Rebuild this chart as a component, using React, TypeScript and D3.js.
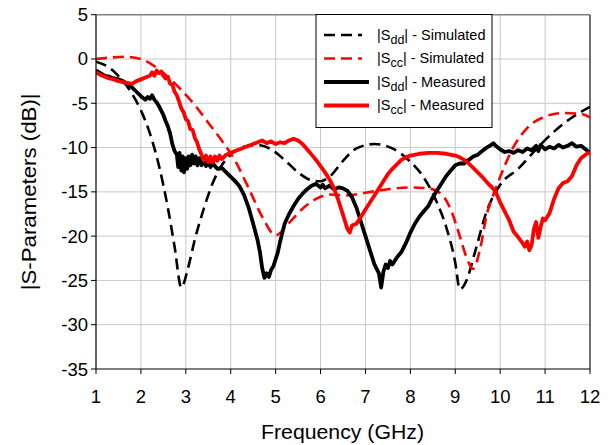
import React from "react";
import * as d3 from "d3";

const xTicks = [1, 2, 3, 4, 5, 6, 7, 8, 9, 10, 11, 12];
const yTicks = [5, 0, -5, -10, -15, -20, -25, -30, -35];

const sddSimF = [1, 1.3, 1.6, 1.8, 2.0, 2.2, 2.4, 2.6, 2.75, 2.9, 3.05, 3.2, 3.4, 3.6, 3.8, 4.0, 4.3, 4.6, 4.9, 5.2, 5.5, 5.8, 6.0, 6.2, 6.5, 6.8, 7.2, 7.6, 8.0, 8.3, 8.6, 8.8, 9.0, 9.1, 9.25, 9.45, 9.7, 10.0, 10.4, 10.8, 11.2, 11.6, 12];
const sddSimV = [-0.3, -1.0, -2.5, -3.9, -5.8, -8.4, -12.0, -16.8, -21.2, -25.8, -23.6, -20.4, -16.9, -14.0, -12.0, -10.8, -9.9, -9.7, -10.2, -11.4, -12.8, -13.7, -13.8, -13.3, -11.5, -10.1, -9.6, -10.1, -11.6, -13.4, -16.3, -19.0, -23.0, -26.0, -25.0, -21.6, -17.2, -14.2, -12.4, -10.2, -8.2, -6.6, -5.4];

const sccSimF = [1, 1.3, 1.65, 2.0, 2.3, 2.6, 2.9, 3.2, 3.5, 3.8, 4.1, 4.4, 4.7, 5.0, 5.3, 5.6, 5.9, 6.2, 6.6, 7.0, 7.5, 8.0, 8.4, 8.7, 8.9, 9.1, 9.25, 9.4, 9.55, 9.7, 9.85, 10.0, 10.3, 10.6, 11.0, 11.4, 11.8, 12];
const sccSimV = [0, 0.15, 0.25, 0.0, -0.8, -2.0, -3.5, -5.2, -7.2, -9.2, -11.5, -14.6, -17.8, -19.9, -18.5, -16.9, -15.8, -15.3, -15.4, -15.1, -14.7, -14.5, -14.6, -15.3, -17.0, -20.0, -22.4, -23.7, -21.5, -17.6, -15.3, -13.3, -9.9, -7.8, -6.5, -6.1, -6.2, -6.6];

const sddMeasF = [1.0, 1.1, 1.2, 1.3, 1.4, 1.5, 1.6, 1.7, 1.8, 1.9, 2.0, 2.05, 2.1, 2.15, 2.2, 2.25, 2.3, 2.35, 2.4, 2.45, 2.5, 2.55, 2.6, 2.65, 2.7, 2.75, 2.8, 2.83, 2.86, 2.9, 2.93, 2.96, 3.0, 3.03, 3.06, 3.1, 3.14, 3.18, 3.22, 3.26, 3.3, 3.35, 3.4, 3.45, 3.5, 3.55, 3.6, 3.7, 3.8, 3.9, 4.0, 4.1, 4.2, 4.3, 4.4, 4.5, 4.6, 4.65, 4.7, 4.75, 4.8, 4.85, 4.9, 4.95, 5.0, 5.05, 5.1, 5.15, 5.2, 5.3, 5.4, 5.5, 5.6, 5.7, 5.8, 5.9, 6.0, 6.05, 6.1, 6.2, 6.3, 6.4, 6.5, 6.6, 6.7, 6.8, 6.9, 7.0, 7.1, 7.2, 7.3, 7.35, 7.4, 7.45, 7.5, 7.55, 7.6, 7.7, 7.8, 7.9, 8.0, 8.1, 8.2, 8.3, 8.4, 8.5, 8.6, 8.7, 8.8, 8.9, 9.0, 9.1, 9.2, 9.25, 9.3, 9.4, 9.5, 9.6, 9.7, 9.8, 9.85, 9.9, 10.0, 10.1, 10.2, 10.3, 10.4, 10.5, 10.6, 10.7, 10.8, 10.85, 10.9, 11.0, 11.1, 11.2, 11.3, 11.4, 11.5, 11.6, 11.7, 11.8, 11.9, 12.0];
const sddMeasV = [-1.3, -1.6, -1.9, -2.0, -2.2, -2.3, -2.5, -2.8, -3.2, -3.7, -4.2, -4.4, -4.6, -4.3, -4.5, -4.1, -4.6, -4.9, -5.3, -5.8, -6.3, -7.0, -7.6, -8.4, -9.6, -10.4, -10.8, -12.2, -10.6, -12.6, -11.0, -12.8, -11.2, -12.4, -11.0, -12.0, -10.8, -11.8, -11.0, -12.0, -11.2, -12.0, -11.4, -12.1, -11.6, -12.2, -11.8, -12.4, -12.3, -12.8, -13.3, -13.8, -14.4, -15.4, -16.8, -18.6, -20.5, -21.8, -23.6, -24.7, -24.2, -24.6, -23.8, -23.4, -22.6, -21.8, -20.6, -19.6, -18.6, -17.5, -16.6, -15.8, -15.2, -14.7, -14.3, -14.1, -14.5, -14.2, -14.6, -14.3, -14.7, -14.5, -14.6, -14.9, -15.6, -16.8, -18.4, -20.0, -21.6, -23.2, -24.2, -25.8, -24.0, -23.2, -23.6, -22.8, -23.2, -22.4, -21.8, -20.8, -19.6, -18.6, -17.8, -17.2, -16.6, -15.6, -14.8, -14.0, -13.2, -12.6, -12.0, -11.8, -11.8, -11.5, -11.4, -11.0, -10.8, -10.4, -10.0, -9.7, -9.5, -9.8, -10.2, -10.5, -10.4, -10.6, -10.3, -10.5, -10.1, -10.3, -9.8, -10.4, -9.7, -10.2, -9.9, -10.1, -9.7, -10.0, -9.8, -9.5, -9.9, -9.8, -10.2, -10.6];

const sccMeasF = [1.0, 1.1, 1.2, 1.3, 1.4, 1.5, 1.6, 1.7, 1.8, 1.9, 2.0, 2.1, 2.2, 2.25, 2.3, 2.35, 2.4, 2.45, 2.5, 2.55, 2.6, 2.65, 2.7, 2.75, 2.8, 2.85, 2.9, 2.95, 3.0, 3.05, 3.1, 3.15, 3.2, 3.25, 3.3, 3.35, 3.4, 3.45, 3.5, 3.55, 3.6, 3.65, 3.7, 3.75, 3.8, 3.9, 4.0, 4.1, 4.2, 4.3, 4.4, 4.5, 4.6, 4.7, 4.8, 4.9, 5.0, 5.1, 5.2, 5.3, 5.4, 5.5, 5.6, 5.7, 5.8, 5.9, 6.0, 6.1, 6.2, 6.3, 6.4, 6.5, 6.6, 6.65, 6.7, 6.8, 6.9, 7.0, 7.1, 7.2, 7.3, 7.4, 7.5, 7.6, 7.7, 7.8, 7.9, 8.0, 8.2, 8.4, 8.6, 8.8, 9.0, 9.1, 9.2, 9.3, 9.4, 9.5, 9.6, 9.7, 9.8, 9.9, 10.0, 10.1, 10.2, 10.3, 10.4, 10.5, 10.55, 10.6, 10.65, 10.7, 10.75, 10.8, 10.85, 10.9, 10.95, 11.0, 11.1, 11.2, 11.3, 11.4, 11.5, 11.6, 11.7, 11.8, 11.9, 12.0];
const sccMeasV = [-1.5, -1.8, -2.0, -2.2, -2.3, -2.5, -2.6, -2.7, -2.8, -2.5, -2.3, -2.1, -1.9, -1.5, -1.9, -1.3, -1.6, -1.4, -1.9, -2.2, -2.0, -2.8, -2.9, -3.7, -4.1, -4.8, -5.6, -6.0, -6.8, -7.0, -7.9, -8.0, -8.9, -9.4, -10.2, -10.8, -11.4, -10.9, -11.6, -11.0, -11.7, -11.0, -11.5, -10.9, -11.3, -10.8, -10.6, -10.4, -10.2, -10.0, -9.8, -9.6, -9.4, -9.2, -9.5, -9.3, -9.6, -9.4, -9.5, -9.2, -9.0, -9.2, -9.6, -10.2, -10.8, -11.4, -12.1, -12.8, -13.6, -14.6, -16.0, -17.6, -19.2, -19.6, -18.8, -18.6, -17.8, -17.0, -16.2, -15.4, -14.6, -13.8, -13.0, -12.4, -11.9, -11.4, -11.1, -10.9, -10.7, -10.6, -10.6, -10.7, -10.9, -11.1, -11.4, -11.8, -12.3, -12.8, -13.3, -13.9, -14.4, -15.0, -16.2, -17.2, -18.2, -19.5, -20.1, -20.8, -21.2, -20.6, -21.6, -21.0, -19.2, -18.4, -20.2, -19.0, -18.0, -18.2, -17.4, -15.8, -14.6, -14.0, -13.8, -13.2, -12.0, -11.2, -10.8, -10.5];

const W = 608;
const H = 445;
const left = 96;
const right = 590;
const top = 14.7;
const bottom = 369;

export default function App() {
  const x = d3.scaleLinear().domain([1, 12]).range([left, right]);
  const y = d3.scaleLinear().domain([-35, 5]).range([bottom, top]);

  const mk = (fs: number[], vs: number[], curve: any) =>
    d3
      .line<number>()
      .x((_, i) => x(fs[i]))
      .y((v) => y(v))
      .curve(curve)(vs) || "";

  const series = [
    { d: mk(sddSimF, sddSimV, d3.curveMonotoneX), color: "#000", dash: "11,6", w: 2.6 },
    { d: mk(sccSimF, sccSimV, d3.curveMonotoneX), color: "#ff0000", dash: "11,6", w: 2.6 },
    { d: mk(sddMeasF, sddMeasV, d3.curveLinear), color: "#000", dash: undefined, w: 3.8 },
    { d: mk(sccMeasF, sccMeasV, d3.curveLinear), color: "#ff0000", dash: undefined, w: 3.8 },
  ];

  const legend = [
    { sub: "dd", label: "| - Simulated", color: "#000", dash: "11,6", w: 2.6, len: 38 },
    { sub: "cc", label: "| - Simulated", color: "#ff0000", dash: "11,6", w: 2.6, len: 38 },
    { sub: "dd", label: "| - Measured", color: "#000", dash: undefined, w: 3.8, len: 45 },
    { sub: "cc", label: "| - Measured", color: "#ff0000", dash: undefined, w: 3.8, len: 45 },
  ];

  const font = "Liberation Sans, Arial, sans-serif";

  return (
    <svg width={W} height={H} style={{ position: "absolute", left: 0, top: 0, background: "#fff" }} fontFamily={font}>
      <defs>
        <clipPath id="plotClip">
          <rect x={left} y={top} width={right - left} height={bottom - top} />
        </clipPath>
      </defs>
      <rect x={0} y={0} width={W} height={H} fill="#fff" />
      {xTicks.slice(1, -1).map((t) => (
        <line key={"gx" + t} x1={x(t)} x2={x(t)} y1={top} y2={bottom} stroke="#c8c8c8" strokeWidth={1} />
      ))}
      {yTicks.slice(1, -1).map((t) => (
        <line key={"gy" + t} x1={left} x2={right} y1={y(t)} y2={y(t)} stroke="#c8c8c8" strokeWidth={1} />
      ))}
      <line x1={left} x2={right} y1={top} y2={top} stroke="#808080" strokeWidth={1.5} />
      <line x1={right} x2={right} y1={top} y2={bottom} stroke="#404040" strokeWidth={1.5} />
      <g clipPath="url(#plotClip)">
        {series.map((s, i) => (
          <path key={i} d={s.d} fill="none" stroke={s.color} strokeWidth={s.w} strokeDasharray={s.dash} strokeLinejoin="round" />
        ))}
      </g>
      <line x1={left} x2={left} y1={top} y2={bottom} stroke="#000" strokeWidth={1.2} />
      <line x1={left} x2={right} y1={bottom} y2={bottom} stroke="#000" strokeWidth={1.2} />
      {xTicks.map((t) => (
        <g key={"xt" + t}>
          <line x1={x(t)} x2={x(t)} y1={bottom} y2={bottom + 5} stroke="#000" strokeWidth={1} />
          <text x={x(t)} y={bottom + 34} textAnchor="middle" fontSize={18.5} fill="#000">
            {t}
          </text>
        </g>
      ))}
      {yTicks.map((t) => (
        <g key={"yt" + t}>
          <line x1={left - 5} x2={left} y1={y(t)} y2={y(t)} stroke="#000" strokeWidth={1} />
          <text x={left - 8} y={y(t) + 6.5} textAnchor="end" fontSize={18.5} fill="#000">
            {t}
          </text>
        </g>
      ))}
      <text x={342.5} y={439} textAnchor="middle" fontSize={21} textLength={163} lengthAdjust="spacingAndGlyphs" fill="#000">
        Frequency (GHz)
      </text>
      <text
        transform={`translate(36,${(top + bottom) / 2}) rotate(-90)`}
        textAnchor="middle"
        fontSize={20}
        textLength={197}
        lengthAdjust="spacingAndGlyphs"
        fill="#000"
      >
        |S-Parameters (dB)|
      </text>
      <rect x={316} y={14.5} width={176} height={113} fill="#fff" stroke="#000" strokeWidth={1} />
      {legend.map((l, i) => {
        const cy = 35 + i * 23.5;
        return (
          <g key={"lg" + i}>
            <line x1={324} x2={324 + l.len} y1={cy} y2={cy} stroke={l.color} strokeWidth={l.w} strokeDasharray={l.dash} />
            <text x={377} y={cy + 4.5} fontSize={14.5} fill="#000">
              |S
              <tspan fontSize={12.5} dy={4}>{l.sub}</tspan>
              <tspan dy={-4}>{l.label}</tspan>
            </text>
          </g>
        );
      })}
    </svg>
  );
}
